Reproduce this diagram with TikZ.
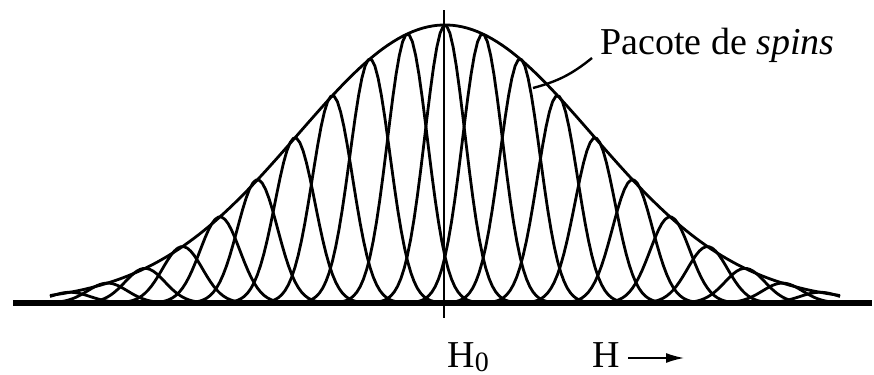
\documentclass[tikz,border=0pt]{standalone}
\usepackage{fontspec}
\setmainfont{Liberation Serif}
\usetikzlibrary{arrows.meta}

\begin{document}
\begin{tikzpicture}[x=0.5pt, y=0.5pt, line join=round,
    curva/.style={line width=1.4pt},
    rotulo/.style={inner sep=0pt, font=\fontsize{19}{23}\selectfont}]

      \useasboundingbox (0,0) rectangle (874,375);

      % 1. Linha de base e eixo central
      \draw[line width=2.6pt] (13,72) -- (872,72);
      \draw[line width=1pt] (444,57) -- (444,365);

      % 2. Envoltória gaussiana
      \draw[curva] plot[domain=50:840, samples=160]
        (\x, {72+278*exp(-0.5*((\x-445)/147)^2)});

      % 3. Linhas individuais (uma por pacote)
      \foreach \k in {-10,...,10} {
        \pgfmathsetmacro\c{445+37.5*\k}
        \pgfmathsetmacro\a{278*exp(-0.5*((37.5*\k)/147)^2)}
        \pgfmathsetmacro\lo{max(\c-80,50)}
        \pgfmathsetmacro\hi{min(\c+80,840)}
        \draw[curva] plot[domain=\lo:\hi, samples=50]
          (\x, {72+\a*exp(-0.5*((\x-\c)/20)^2)});
      }

      % 4. Textos
      \node[rotulo, anchor=base west] (paquete) at (600,320) {Pacote de \textit{spins}};
      \coordinate (punta) at (533,287);
      \draw[line width=1.2pt] ([shift={(-4pt,-1.5pt)}]paquete.base west) to[bend left=12] (punta);

      \node[rotulo, anchor=base west] (hcero) at (447,7) {H\raisebox{-0.2ex}{\fontsize{14}{14}\selectfont 0}};
      \node[rotulo, anchor=base west] (hcampo) at (592,7) {H};
      \coordinate (flecha) at (684,17);
      \draw[line width=0.8pt, -{Latex[length=9pt, width=5pt]}] (hcampo.east |- flecha) ++(4pt,0) -- (flecha);

\end{tikzpicture}
\end{document}
